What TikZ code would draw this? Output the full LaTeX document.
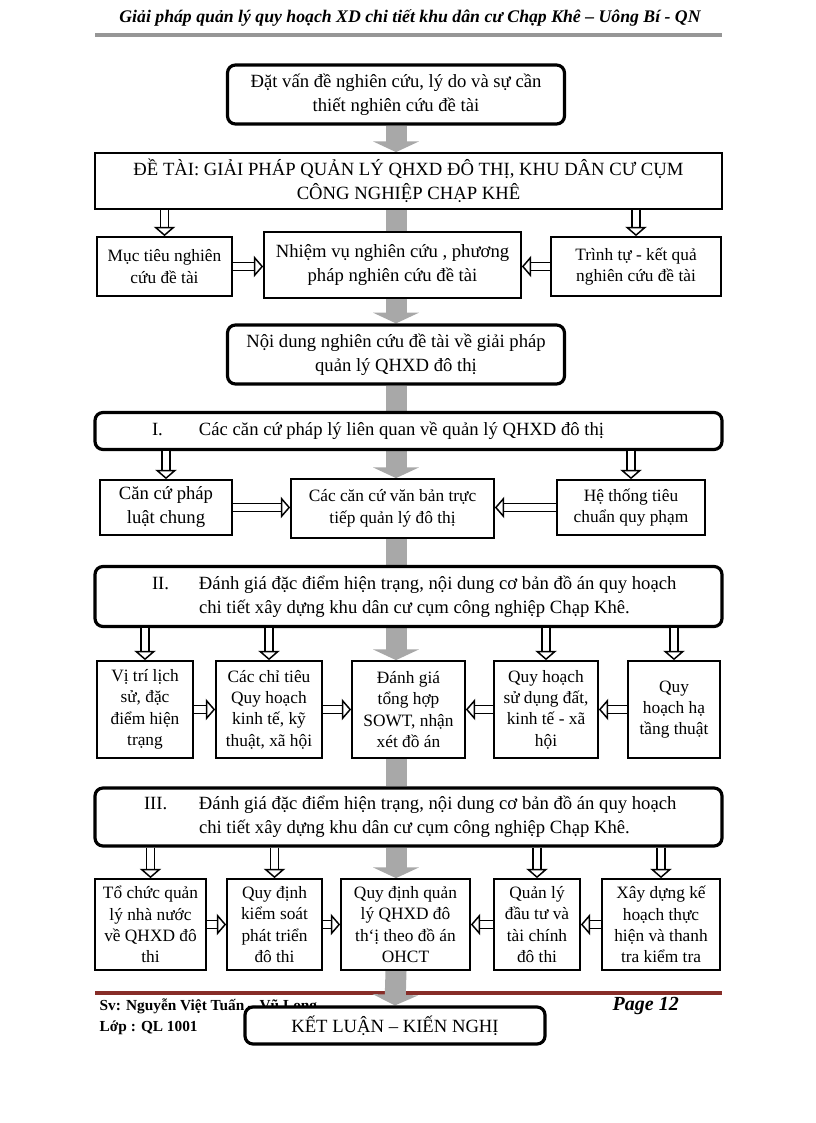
\documentclass[tikz,border=0pt]{standalone}
\usepackage{fontspec}
\setmainfont{Liberation Serif}
\usetikzlibrary{arrows.meta,backgrounds}

\definecolor{spinegray}{RGB}{168,168,168}
\definecolor{rulegray}{RGB}{150,150,150}
\definecolor{rulered}{RGB}{135,45,40}

\begin{document}
\begin{tikzpicture}[x=0.75pt, y=-0.75pt,
  box/.style={draw, line width=1.3pt, fill=white, align=center, inner sep=1pt, font=\fontsize{13}{16}\selectfont},
  wbox/.style={box, font=\fontsize{14}{18}\selectfont},
  rbox/.style={draw, line width=2.4pt, rounded corners=6pt, fill=white, align=center, font=\fontsize{14}{18}\selectfont},
  secbox/.style={rbox, align=flush left, inner xsep=0pt, text width=470.25pt, minimum width=470.25pt},
  hollow/.style={double, double distance=4.6pt, line width=1.1pt, -{Triangle[open, length=7pt, width=16pt, line width=1.1pt]}},
  spine/.style={spinegray, line width=15.75pt},
  spinetip/.style={spine, -{Triangle[length=8pt, width=34pt]}}]

  \useasboundingbox (0,0) rectangle (816,1123);

  % page header
  \node[font=\fontsize{13.3}{15}\selectfont\bfseries\itshape] (title) at (410,18) {Giải pháp quản lý quy hoạch XD chi tiết khu dân cư Chạp Khê – Uông Bí - QN};

  % top part
  \node[rbox, minimum width=252.75pt, minimum height=44.25pt] (datvande) at (396,94.5) {Đặt vấn đề nghiên cứu, lý do và sự cần\\thiết nghiên cứu đề tài};
  \node[wbox, minimum width=470.25pt, minimum height=42pt] (detai) at (408.5,181) {ĐỀ TÀI: GIẢI PHÁP QUẢN LÝ QHXD ĐÔ THỊ, KHU DÂN CƯ CỤM\\CÔNG NGHIỆP CHẠP KHÊ};
  \node[box, minimum width=101.25pt, minimum height=44.25pt] (muctieu) at (164.5,266.5) {Mục tiêu nghiên\\cứu đề tài};
  \node[wbox, minimum width=192.75pt, minimum height=49.5pt] (nhiemvu) at (392.5,265) {Nhiệm vụ nghiên cứu , phương\\pháp nghiên cứu đề tài};
  \node[box, minimum width=127.5pt, minimum height=44.25pt] (trinhtu) at (636,266.5) {Trình tự - kết quả\\nghiên cứu đề tài};
  \node[rbox, minimum width=252.75pt, minimum height=44.25pt] (noidung) at (396,354.5) {Nội dung nghiên cứu đề tài về giải pháp\\quản lý QHXD đô thị};

  % I.
  \node[secbox, minimum height=27.75pt] (muc1) at (408.5,431) {\hspace*{42.75pt}\makebox[35.25pt][l]{I.}Các căn cứ pháp lý liên quan về quản lý QHXD đô thị};
  \node[wbox, minimum width=99pt, minimum height=41.25pt] (cancu) at (166,507.5) {Căn cứ pháp\\luật chung};
  \node[box, minimum width=152.25pt, minimum height=44.25pt] (vanban) at (392.5,508.5) {Các căn cứ văn bản trực\\tiếp quản lý đô thị};
  \node[box, minimum width=111pt, minimum height=41.25pt] (hethong) at (631,507.5) {Hệ thống tiêu\\chuẩn quy phạm};

  % II.
  \node[secbox, minimum height=45pt] (muc2) at (408.5,596.5) {\hspace*{42.75pt}\makebox[35.25pt][l]{II.}Đánh giá đặc điểm hiện trạng, nội dung cơ bản đồ án quy hoạch\\\hspace*{78pt}chi tiết xây dựng khu dân cư cụm công nghiệp Chạp Khê.};
  \node[box, minimum width=72pt, minimum height=72.75pt] (vitri) at (145,709.5) {Vị trí lịch\\sử, đặc\\điểm hiện\\trạng};
  \node[box, minimum width=79.5pt, minimum height=72.75pt] (chitieu) at (269,709.5) {Các chỉ tiêu\\Quy hoạch\\kinh tế, kỹ\\thuật, xã hội};
  \node[box, minimum width=84.75pt, minimum height=72.75pt] (danhgia) at (408.5,709.5) {Đánh giá\\tổng hợp\\SOWT, nhận\\xét đồ án};
  \node[box, minimum width=78pt, minimum height=72.75pt] (sudungdat) at (546,709.5) {Quy hoạch\\sử dụng đất,\\kinh tế - xã\\hội};
  \node[box, minimum width=69pt, minimum height=72.75pt] (hatang) at (674,709.5) {Quy\\hoạch hạ\\tầng thuật};

  % III.
  \node[secbox, minimum height=43.5pt] (muc3) at (408.5,817) {\hspace*{36.75pt}\makebox[41.25pt][l]{III.}Đánh giá đặc điểm hiện trạng, nội dung cơ bản đồ án quy hoạch\\\hspace*{78pt}chi tiết xây dựng khu dân cư cụm công nghiệp Chạp Khê.};
  \node[box, minimum width=83.25pt, minimum height=68.25pt] (tochuc) at (150.5,924.5) {Tổ chức quản\\lý nhà nước\\về QHXD đô\\thi};
  \node[box, minimum width=71.25pt, minimum height=68.25pt] (kiemsoat) at (274.5,924.5) {Quy định\\kiểm soát\\phát triển\\đô thi};
  \node[box, minimum width=96.75pt, minimum height=68.25pt] (quydinh) at (405.5,924.5) {Quy định quản\\lý QHXD đô\\th\symbol{96}ị theo đồ án\\OHCT};
  \node[box, minimum width=64.5pt, minimum height=68.25pt] (dautu) at (537,924.5) {Quản lý\\đầu tư và\\tài chính\\đô thi};
  \node[box, minimum width=88.5pt, minimum height=68.25pt] (kehoach) at (661,924.5) {Xây dựng kế\\hoạch thực\\hiện và thanh\\tra kiểm tra};

  % page footer
  \node[anchor=west, font=\fontsize{11.5}{15}\selectfont\bfseries] (sv) at (95,1006) {Sv: Nguyễn Việt Tuấn – Vũ Long};
  \node[anchor=west, font=\fontsize{11.5}{15}\selectfont\bfseries] (lop) at (95,1028) {Lớp : QL 1001};
  \node[anchor=west, font=\fontsize{15}{17}\selectfont\bfseries\itshape] (page) at (608,1006) {Page 12};
  \node[rbox, minimum width=225pt, minimum height=27.75pt] (ketluan) at (395,1025.5) {KẾT LUẬN – KIẾN NGHỊ};

  \begin{scope}[on background layer]
    \fill[white] (0,0) rectangle (816,1123);
    \draw[rulegray, line width=3pt] (95,35) -- (722,35);
    \draw[rulered, line width=3pt] (95,993) -- (722,993);
    % main spine
    \draw[spinetip] (datvande.south) -- (datvande.south |- detai.north);
    \draw[spine] (datvande.south |- detai.south) -- (datvande.south |- nhiemvu.north);
    \draw[spinetip] (datvande.south |- nhiemvu.south) -- (noidung.north);
    \draw[spine] (noidung.south) -- (noidung.south |- muc1.north);
    \draw[spinetip] (noidung.south |- muc1.south) -- (noidung.south |- vanban.north);
    \draw[spine] (noidung.south |- vanban.south) -- (noidung.south |- muc2.north);
    \draw[spinetip] (noidung.south |- muc2.south) -- (noidung.south |- danhgia.north);
    \draw[spine] (noidung.south |- danhgia.south) -- (noidung.south |- muc3.north);
    \draw[spinetip] (noidung.south |- muc3.south) -- (noidung.south |- quydinh.north);
    \draw[spinetip] (noidung.south |- quydinh.south) -- (ketluan.north);
  \end{scope}

  % side arrows
  \draw[hollow] (muctieu.north |- detai.south) -- (muctieu.north);
  \draw[hollow] (trinhtu.north |- detai.south) -- (trinhtu.north);
  \draw[hollow] (muctieu.east) -- (muctieu.east -| nhiemvu.west);
  \draw[hollow] (trinhtu.west) -- (trinhtu.west -| nhiemvu.east);

  \draw[hollow] (cancu.north |- muc1.south) -- (cancu.north);
  \draw[hollow] (hethong.north |- muc1.south) -- (hethong.north);
  \draw[hollow] (cancu.east) -- (cancu.east -| vanban.west);
  \draw[hollow] (hethong.west) -- (hethong.west -| vanban.east);

  \foreach \n in {vitri, chitieu, sudungdat, hatang}
    \draw[hollow] (\n.north |- muc2.south) -- (\n.north);
  \draw[hollow] (vitri) -- (chitieu);
  \draw[hollow] (chitieu) -- (danhgia);
  \draw[hollow] (sudungdat) -- (danhgia);
  \draw[hollow] (hatang) -- (sudungdat);

  \foreach \n in {tochuc, kiemsoat, dautu, kehoach}
    \draw[hollow] (\n.north |- muc3.south) -- (\n.north);
  \draw[hollow] (tochuc) -- (kiemsoat);
  \draw[hollow] (kiemsoat) -- (quydinh);
  \draw[hollow] (dautu) -- (quydinh);
  \draw[hollow] (kehoach) -- (dautu);
\end{tikzpicture}
\end{document}
